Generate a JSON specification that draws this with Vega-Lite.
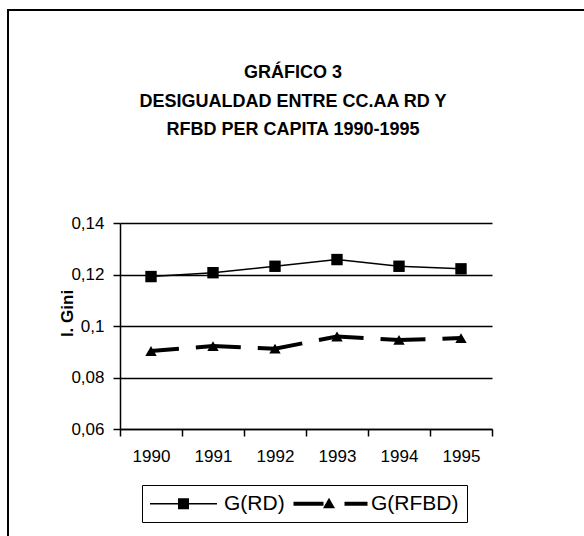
{
  "$schema": "https://vega.github.io/schema/vega-lite/v6.json",
  "width": 590,
  "height": 540,
  "autosize": {"type": "none"},
  "padding": {"left": 8, "top": 10, "right": 0, "bottom": 0},
  "background": "white",
  "config": {
    "font": "Liberation Sans",
    "view": {"stroke": "black", "strokeWidth": 2},
    "axis": {
      "domainColor": "black",
      "domainWidth": 1.5,
      "tickColor": "black",
      "tickWidth": 1.5,
      "labelColor": "black",
      "labelFont": "Liberation Sans",
      "labelFontSize": 17,
      "titleColor": "black"
    }
  },
  "title": {
    "text": ["GRÁFICO 3", "DESIGUALDAD ENTRE CC.AA RD Y", "RFBD PER CAPITA 1990-1995"],
    "font": "Liberation Sans",
    "fontSize": 18,
    "fontWeight": "bold",
    "color": "black",
    "anchor": "middle",
    "frame": "group",
    "baseline": "top",
    "lineHeight": 28.5,
    "offset": -129,
    "dx": -10
  },
  "data": {
    "values": [
      {"year": "1990", "series": "G(RD)", "gini": 0.1192},
      {"year": "1991", "series": "G(RD)", "gini": 0.1207},
      {"year": "1992", "series": "G(RD)", "gini": 0.1232},
      {"year": "1993", "series": "G(RD)", "gini": 0.1258},
      {"year": "1994", "series": "G(RD)", "gini": 0.1232},
      {"year": "1995", "series": "G(RD)", "gini": 0.1222},
      {"year": "1990", "series": "G(RFBD)", "gini": 0.0903},
      {"year": "1991", "series": "G(RFBD)", "gini": 0.0922},
      {"year": "1992", "series": "G(RFBD)", "gini": 0.0912},
      {"year": "1993", "series": "G(RFBD)", "gini": 0.0959},
      {"year": "1994", "series": "G(RFBD)", "gini": 0.0946},
      {"year": "1995", "series": "G(RFBD)", "gini": 0.0953}
    ]
  },
  "encoding": {
    "x": {
      "field": "year",
      "type": "ordinal",
      "scale": {"type": "band", "range": [112, 484], "paddingInner": 0, "paddingOuter": 0},
      "axis": {
        "orient": "bottom",
        "offset": -121,
        "title": null,
        "labelAngle": 0,
        "tickBand": "extent",
        "tickSize": 7,
        "labelPadding": 12,
        "grid": false
      }
    },
    "y": {
      "field": "gini",
      "type": "quantitative",
      "scale": {"domain": [0.06, 0.14], "range": [419, 213], "nice": false, "zero": false},
      "axis": {
        "orient": "left",
        "offset": -112,
        "values": [0.06, 0.08, 0.1, 0.12, 0.14],
        "labelExpr": "replace(format(datum.value, '~g'), '.', ',')",
        "tickSize": 7,
        "labelPadding": 9,
        "grid": true,
        "gridColor": "black",
        "gridWidth": 1.5,
        "gridOpacity": 1,
        "title": "I. Gini",
        "titleFont": "Liberation Sans",
        "titleFontSize": 17,
        "titleFontWeight": "bold",
        "titleAngle": 270,
        "titleAlign": "center",
        "titleBaseline": "middle",
        "titleX": -53,
        "titleY": 303
      }
    }
  },
  "layer": [
    {
      "transform": [{"filter": "datum.series === 'G(RD)'"}],
      "mark": {"type": "line", "color": "black", "strokeWidth": 1.5}
    },
    {
      "transform": [{"filter": "datum.series === 'G(RFBD)'"}],
      "mark": {"type": "line", "color": "black", "strokeWidth": 4, "strokeDash": [45, 17], "strokeDashOffset": 17, "strokeCap": "butt"}
    },
    {
      "mark": {"type": "point", "filled": true, "color": "black", "opacity": 1, "size": 130},
      "encoding": {
        "shape": {
          "field": "series",
          "type": "nominal",
          "scale": {"domain": ["G(RD)", "G(RFBD)"], "range": ["square", "triangle-up"]},
          "legend": null
        }
      }
    },
    {
      "transform": [{"filter": "false"}],
      "mark": {"type": "point", "filled": true, "color": "black", "opacity": 1, "strokeWidth": 0},
      "encoding": {
        "shape": {
          "field": "series",
          "type": "nominal",
          "scale": {
            "domain": ["G(RD)", "G(RFBD)"],
            "range": [
              "M-3.35,-0.075H3.35V0.075H-3.35Z M-0.55,-0.55H0.55V0.55H-0.55Z",
              "M-3.7,-0.2H-0.7V0.2H-3.7Z M1.4,-0.2H3.7V0.2H1.4Z M-0.15,-0.6L0.45,0.45H-0.75Z"
            ]
          },
          "legend": {
            "orient": "none",
            "legendX": 134,
            "legendY": 475,
            "direction": "horizontal",
            "columns": 2,
            "title": null,
            "strokeColor": "black",
            "padding": 8,
            "labelFont": "Liberation Sans",
            "labelFontSize": 21,
            "labelColor": "black",
            "symbolSize": 400,
            "symbolStrokeWidth": 0,
            "symbolFillColor": "black",
            "symbolOpacity": 1,
            "symbolOffset": 23,
            "labelOffset": 30,
            "columnPadding": 8
          }
        }
      }
    }
  ],
  "resolve": {"scale": {"shape": "independent"}, "legend": {"shape": "independent"}}
}
